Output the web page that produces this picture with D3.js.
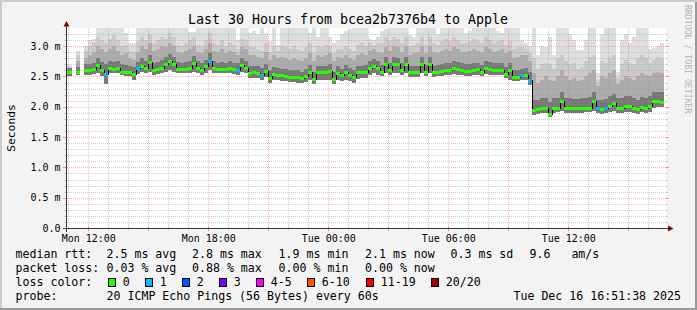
<!DOCTYPE html>
<html><head><meta charset="utf-8">
<script src="https://cdn.jsdelivr.net/npm/d3@7"></script>
<style>
html,body{margin:0;padding:0;background:#f3f3f3;}
svg{display:block;}
text{font-family:"DejaVu Sans Mono",monospace;white-space:pre;}
</style></head><body>
<svg id="c" width="697" height="310"></svg>
<script>
// ---------------- data ----------------
const chartTitle = "Last 30 Hours from bcea2b7376b4 to Apple";
const yAxisTitle = "Seconds";
const watermark = "RRDTOOL / TOBI OETIKER";
const startTime = new Date(2025, 11, 15, 10, 51, 38);
const endTime   = new Date(2025, 11, 16, 16, 51, 38);
const firstStep = new Date(2025, 11, 15, 10, 48, 0);
const stepMinutes = 12;

// median rtt per 12-minute step (ms)
const median = [
2.57,2.57,null,2.57,null,2.60,2.60,2.62,2.68,2.60,
2.54,2.64,2.62,2.64,2.57,2.57,2.57,2.54,2.63,2.67,
2.63,2.73,2.60,2.61,2.63,2.69,2.74,2.69,2.62,2.62,
2.62,2.64,2.72,2.63,2.60,2.66,2.74,2.64,2.62,2.62,
2.62,2.64,2.61,2.60,2.68,2.63,2.55,2.56,2.55,2.51,
2.59,2.46,2.53,2.52,2.51,2.50,2.48,2.49,2.48,2.46,
2.50,2.57,2.45,2.56,2.56,2.56,2.58,2.45,2.55,2.51,
2.57,2.52,2.48,2.57,2.57,2.57,2.64,2.67,2.63,2.57,
2.69,2.60,2.69,2.69,2.60,2.69,2.56,2.56,2.56,2.69,
2.57,2.69,2.56,2.57,2.59,2.60,2.60,2.64,2.62,2.60,
2.59,2.59,2.60,2.61,2.57,2.64,2.62,2.60,2.60,2.60,
2.53,2.60,2.48,2.48,2.51,2.52,2.43,1.94,1.95,1.98,
1.97,1.87,1.98,1.98,2.08,1.97,1.98,1.97,1.97,1.97,
1.98,1.98,2.08,1.97,1.95,1.97,2.00,2.05,1.98,1.98,
2.00,2.00,1.98,1.95,1.99,1.97,2.01,2.08,2.08,2.07];

// lost pings per step (out of 20)
const lossCount = [
0,0,0,0,0,0,0,0,0,0, 1,0,0,0,0,0,0,0,1,0,
0,0,0,0,0,0,0,0,0,0, 0,0,0,0,0,0,1,0,0,0,
0,0,0,1,0,0,0,0,0,1, 0,0,0,0,0,0,0,0,0,0,
0,0,0,0,0,0,0,0,0,0, 0,0,0,0,0,0,0,0,0,0,
0,0,0,0,0,0,0,0,0,0, 0,0,0,0,0,0,0,0,0,0,
0,0,0,0,0,0,0,0,0,0, 0,0,0,0,1,0,1,0,0,0,
0,0,0,0,0,0,0,0,0,0, 0,0,0,1,0,1,0,0,0,0,
0,0,0,0,0,0,0,0,0,0];

// smoke bands (ms): highest ping, outer, upper, inner spread, lowest ping
const smokeMax = [
2.69,2.69,null,2.92,null,3.00,3.10,3.12,3.40,3.40,
3.30,3.30,3.32,3.30,3.40,3.22,3.05,3.05,3.40,3.40,
3.40,3.40,3.40,3.40,3.40,3.40,3.40,3.40,3.40,3.40,
3.40,3.23,3.23,3.40,3.40,3.40,3.40,3.40,3.40,3.40,
3.40,3.40,3.40,3.10,3.40,3.40,3.22,3.25,3.20,3.30,
3.22,3.08,3.40,3.02,3.40,3.40,3.40,3.40,3.40,3.40,
3.40,3.22,3.40,3.15,3.40,3.40,3.15,3.05,3.10,3.20,
3.25,3.28,3.40,3.40,3.40,3.40,3.12,3.10,3.15,3.25,
3.28,3.40,3.40,3.40,3.40,3.40,3.18,3.15,3.40,3.40,
3.40,3.40,3.40,3.20,3.40,3.40,3.40,3.40,3.40,3.40,
3.22,3.25,3.40,3.40,3.40,3.40,3.40,3.40,3.25,3.22,
3.40,3.40,3.40,3.40,3.10,3.05,3.00,3.30,2.85,3.00,
2.99,3.15,2.85,3.40,3.40,3.30,3.20,3.10,2.93,2.93,
3.10,3.40,3.40,2.56,3.20,3.40,3.30,3.40,2.57,3.10,
3.20,3.05,3.15,3.40,3.40,3.40,2.95,2.97,3.00,3.05];
const smokeOuter = [
2.66,2.66,null,2.85,null,2.92,3.00,3.05,3.15,3.10,
3.05,3.12,3.18,3.10,3.00,3.02,2.92,2.90,3.08,3.15,
3.10,3.20,3.05,3.10,3.15,3.12,3.22,3.15,3.02,3.00,
3.05,3.10,3.15,3.02,3.00,3.10,3.22,3.05,3.02,3.10,
3.00,3.05,3.02,2.95,3.12,3.10,3.00,2.98,2.95,2.92,
3.05,2.90,3.00,2.92,3.00,2.98,2.95,3.00,2.95,2.92,
2.98,3.05,2.90,3.00,2.98,3.02,3.00,2.88,2.95,2.95,
3.00,2.95,2.92,3.02,3.05,3.00,3.05,3.02,3.05,3.05,
3.15,3.08,3.15,3.12,3.05,3.15,3.00,3.02,3.05,3.15,
3.02,3.15,3.05,3.02,3.08,3.12,3.08,3.15,3.10,3.05,
3.05,3.08,3.12,3.08,3.05,3.15,3.10,3.05,3.08,3.10,
3.02,3.08,2.95,2.98,2.98,2.95,2.88,2.80,2.62,2.70,
2.72,2.70,2.62,2.80,2.85,2.75,2.70,2.72,2.62,2.65,
2.75,2.82,2.85,2.45,2.75,2.72,2.80,2.85,2.48,2.70,
2.78,2.72,2.70,2.80,2.85,2.80,2.72,2.78,2.82,2.80];
const smokeUpper = [
2.62,2.62,null,2.75,null,2.80,2.85,2.90,3.00,2.95,
2.90,2.95,3.00,2.92,2.85,2.88,2.80,2.78,2.90,3.00,
2.95,3.05,2.92,2.95,3.00,2.98,3.05,3.00,2.90,2.88,
2.92,2.95,3.00,2.90,2.88,2.95,3.05,2.92,2.90,2.95,
2.88,2.92,2.90,2.85,2.98,2.95,2.85,2.85,2.82,2.80,
2.90,2.78,2.85,2.80,2.82,2.80,2.78,2.80,2.78,2.75,
2.80,2.88,2.75,2.85,2.82,2.85,2.88,2.75,2.82,2.80,
2.85,2.80,2.78,2.85,2.88,2.85,2.92,2.95,2.90,2.88,
2.98,2.92,3.00,2.98,2.90,3.00,2.85,2.88,2.90,3.00,
2.88,3.00,2.90,2.88,2.92,2.95,2.92,2.98,2.95,2.90,
2.90,2.92,2.95,2.92,2.90,2.98,2.95,2.90,2.92,2.95,
2.88,2.92,2.80,2.82,2.85,2.85,2.75,2.55,2.40,2.45,
2.50,2.45,2.42,2.50,2.60,2.50,2.45,2.48,2.42,2.45,
2.50,2.55,2.60,2.35,2.50,2.48,2.55,2.60,2.38,2.45,
2.50,2.48,2.45,2.50,2.55,2.52,2.50,2.55,2.58,2.55];
const smokeInner = [
2.64,2.64,null,2.66,null,2.70,2.71,2.73,2.80,2.74,
2.70,2.76,2.74,2.76,2.70,2.69,2.68,2.66,2.74,2.80,
2.76,2.86,2.73,2.74,2.77,2.82,2.87,2.82,2.74,2.73,
2.74,2.76,2.84,2.75,2.72,2.78,2.88,2.76,2.73,2.74,
2.73,2.76,2.73,2.72,2.81,2.76,2.67,2.68,2.67,2.64,
2.71,2.60,2.65,2.64,2.63,2.62,2.60,2.61,2.60,2.58,
2.62,2.69,2.58,2.68,2.67,2.68,2.70,2.58,2.67,2.63,
2.69,2.64,2.60,2.68,2.68,2.69,2.76,2.79,2.75,2.69,
2.82,2.73,2.82,2.81,2.72,2.82,2.68,2.68,2.68,2.82,
2.69,2.82,2.68,2.69,2.71,2.72,2.72,2.76,2.74,2.72,
2.71,2.71,2.72,2.73,2.69,2.76,2.74,2.72,2.72,2.72,
2.66,2.72,2.61,2.60,2.63,2.64,2.57,2.12,2.12,2.15,
2.14,2.08,2.15,2.15,2.24,2.14,2.15,2.13,2.13,2.14,
2.15,2.16,2.24,2.12,2.12,2.13,2.17,2.21,2.14,2.15,
2.17,2.17,2.15,2.12,2.16,2.14,2.18,2.24,2.25,2.24];
const smokeMin = [
2.50,2.50,null,2.52,null,2.53,2.53,2.54,2.55,2.50,
2.38,2.55,2.55,2.56,2.52,2.51,2.51,2.45,2.54,2.57,
2.55,2.58,2.53,2.54,2.55,2.57,2.60,2.58,2.55,2.55,
2.55,2.56,2.58,2.55,2.53,2.56,2.60,2.56,2.55,2.55,
2.55,2.56,2.54,2.53,2.57,2.55,2.47,2.48,2.47,2.44,
2.49,2.40,2.45,2.44,2.43,2.42,2.41,2.41,2.40,2.39,
2.41,2.44,2.38,2.44,2.45,2.45,2.45,2.38,2.44,2.42,
2.45,2.43,2.40,2.46,2.47,2.48,2.52,2.55,2.53,2.50,
2.55,2.52,2.55,2.55,2.52,2.55,2.49,2.49,2.49,2.55,
2.50,2.55,2.49,2.50,2.51,2.52,2.52,2.54,2.53,2.52,
2.51,2.51,2.52,2.52,2.50,2.54,2.53,2.52,2.52,2.52,
2.47,2.45,2.42,2.42,2.44,2.45,2.36,1.87,1.88,1.90,
1.89,1.83,1.90,1.91,1.93,1.90,1.90,1.90,1.90,1.90,
1.91,1.91,1.93,1.89,1.88,1.89,1.91,1.93,1.90,1.90,
1.91,1.92,1.90,1.88,1.91,1.90,1.92,1.98,1.99,1.99];

const yTickValues = [0, 0.5, 1.0, 1.5, 2.0, 2.5, 3.0];
const yTickLabels = ["0.0", "0.5 m", "1.0 m", "1.5 m", "2.0 m", "2.5 m", "3.0 m"];

const lossBuckets = ["0", "1", "2", "3", "4-5", "6-10", "11-19", "20/20"];
const lossColors  = ["#26ff00", "#00b8ff", "#0059ff", "#7e00ff", "#ff00ff", "#ff5500", "#ff0000", "#a10000"];
const lossUpper   = [0, 1, 2, 3, 5, 10, 19, 20];

const rttStats  = ["2.5 ms avg", "2.8 ms max", "1.9 ms min", "2.1 ms now", "0.3 ms sd", "9.6   am/s"];
const lossStats = ["0.03 % avg", "0.88 % max", "0.00 % min", "0.00 % now"];
const probeText = "20 ICMP Echo Pings (56 Bytes) every 60s";
const dateText  = "Tue Dec 16 16:51:38 2025";

// ---------------- drawing ----------------
(function () {
const svg = d3.select("#c");
const W = 697, H = 310;
const pL = 66, pR = 666, pT = 28, pB = 228;

svg.append("rect").attr("width", W).attr("height", H).attr("fill", "#f3f3f3");
svg.append("path").attr("d", "M0,0H697V2H2V310H0Z").attr("fill", "#cbcbcb");
svg.append("path").attr("d", "M697,0V310H0V308H695V2H697Z").attr("fill", "#999999");

const x = d3.scaleTime().domain([startTime, endTime]).range([65.5, 665.5]);
const y = d3.scaleLinear().domain([0, 3.3]).range([pB, pT]);

svg.append("rect").attr("x", pL).attr("y", pT).attr("width", pR - pL).attr("height", pB - pT).attr("fill", "#ffffff");

svg.append("clipPath").attr("id", "plot").append("rect")
  .attr("x", pL + 1).attr("y", pT).attr("width", pR - pL - 1).attr("height", pB - pT);

const stepTime = k => new Date(firstStep.getTime() + k * stepMinutes * 60000);
const steps = d3.range(median.length).filter(k => median[k] != null);

const g = svg.append("g").attr("clip-path", "url(#plot)").attr("shape-rendering", "crispEdges");

const layers = [
  {top: smokeMax,   color: "#dedede"},
  {top: smokeOuter, color: "#cacaca"},
  {top: smokeUpper, color: "#acacac"},
  {top: smokeInner, color: "#787878"}
];
layers.forEach(L => {
  g.append("g").selectAll("rect").data(steps).join("rect")
    .attr("x", k => x(stepTime(k)))
    .attr("width", k => x(stepTime(k + 1)) - x(stepTime(k)))
    .attr("y", k => y(L.top[k]))
    .attr("height", k => y(smokeMin[k]) - y(L.top[k]))
    .attr("fill", L.color);
});

// grid
const minorCol = "rgba(150,150,150,0.45)", majorCol = "rgba(255,90,90,0.45)";
const grid = svg.append("g");
const px = v => Math.floor(v) + 0.5;
const hourTicks = x.ticks(d3.timeHour.every(1));
const majorX = hourTicks.filter(t => t.getHours() % 3 === 0);
const minorX = hourTicks.filter(t => t.getHours() % 3 !== 0);
const minorY = d3.range(1, 33).map(i => i / 10).filter(v => Math.abs(v * 2 - Math.round(v * 2)) > 1e-6);
const majorY = yTickValues.filter(v => v > 0);

grid.append("g").selectAll("line").data(minorX).join("line")
  .attr("x1", t => px(x(t))).attr("x2", t => px(x(t))).attr("y1", pT).attr("y2", pB)
  .attr("stroke", minorCol).attr("stroke-dasharray", "1,1");
grid.append("g").selectAll("line").data(minorY).join("line")
  .attr("x1", pL + 1).attr("x2", pR).attr("y1", v => Math.round(y(v)) + 0.5).attr("y2", v => Math.round(y(v)) + 0.5)
  .attr("stroke", minorCol).attr("stroke-dasharray", "1,1");
grid.append("g").selectAll("line").data(majorX).join("line")
  .attr("x1", t => px(x(t))).attr("x2", t => px(x(t))).attr("y1", pT).attr("y2", pB)
  .attr("stroke", majorCol).attr("stroke-dasharray", "1,1");
grid.append("g").selectAll("line").data(majorY).join("line")
  .attr("x1", pL + 1).attr("x2", pR).attr("y1", v => Math.round(y(v)) + 0.5).attr("y2", v => Math.round(y(v)) + 0.5)
  .attr("stroke", majorCol).attr("stroke-dasharray", "1,1");

// median line and loss-coloured bars
const g2 = svg.append("g").attr("clip-path", "url(#plot)").attr("shape-rendering", "crispEdges");
const line = d3.line()
  .defined(k => median[k] != null)
  .x(k => x(stepTime(k)))
  .y(k => y(median[k]))
  .curve(d3.curveStepAfter);
g2.append("path").datum(d3.range(median.length))
  .attr("d", line).attr("fill", "none").attr("stroke", "#000").attr("stroke-width", 1);

const lossColor = n => lossColors[lossUpper.findIndex(u => n <= u)];
g2.append("g").selectAll("rect").data(steps).join("rect")
  .attr("x", k => x(stepTime(k)))
  .attr("width", k => x(stepTime(k + 1)) - x(stepTime(k)))
  .attr("y", k => y(median[k]) - 1.5)
  .attr("height", 3)
  .attr("fill", k => lossColor(lossCount[k]));

// ticks
const ticks = svg.append("g").attr("shape-rendering", "crispEdges");
ticks.append("g").selectAll("line").data(minorX).join("line")
  .attr("x1", t => px(x(t))).attr("x2", t => px(x(t))).attr("y1", 226).attr("y2", 230).attr("stroke", "#cccccc");
ticks.append("g").selectAll("line").data(majorX).join("line")
  .attr("x1", t => px(x(t))).attr("x2", t => px(x(t))).attr("y1", 226).attr("y2", 231).attr("stroke", "#ff9090");
[[minorY, "#cccccc", 2], [majorY, "#ff9090", 3]].forEach(([vals, col, len]) => {
  ticks.append("g").selectAll("line").data(vals).join("line")
    .attr("x1", pL - len).attr("x2", pL).attr("y1", v => Math.round(y(v)) + 0.5).attr("y2", v => Math.round(y(v)) + 0.5).attr("stroke", col);
  ticks.append("g").selectAll("line").data(vals).join("line")
    .attr("x1", pR).attr("x2", pR + len).attr("y1", v => Math.round(y(v)) + 0.5).attr("y2", v => Math.round(y(v)) + 0.5).attr("stroke", col);
});

// axes
const axisCol = "#333333", arrowCol = "#7f0000";
svg.append("line").attr("x1", 63).attr("x2", 669).attr("y1", pB + 0.5).attr("y2", pB + 0.5)
  .attr("stroke", axisCol).attr("shape-rendering", "crispEdges");
svg.append("line").attr("x1", pL + 0.5).attr("x2", pL + 0.5).attr("y1", 232).attr("y2", 24)
  .attr("stroke", axisCol).attr("shape-rendering", "crispEdges");
svg.append("path").attr("d", "M668,225.5L673.5,228.5L668,231.5Z").attr("fill", arrowCol);
svg.append("path").attr("d", "M63.5,26.5L66.5,21L69.5,26.5Z").attr("fill", arrowCol);

// axis labels
svg.append("g").selectAll("text").data(yTickValues).join("text")
  .attr("x", 60.5).attr("y", v => y(v) + 3.6).attr("text-anchor", "end")
  .attr("font-size", "10px").attr("fill", "#000")
  .text((v, i) => yTickLabels[i]);
const fmt = d3.timeFormat("%a %H:%M");
svg.append("g").selectAll("text").data(x.ticks(d3.timeHour.every(6))).join("text")
  .attr("x", t => x(t) + 0.5).attr("y", 241.5).attr("text-anchor", "middle")
  .attr("font-size", "10px").attr("fill", "#000")
  .text(t => fmt(t));

// titles
svg.append("text").attr("x", 348).attr("y", 23.5).attr("text-anchor", "middle")
  .attr("font-size", "13.3px").attr("fill", "#000").text(chartTitle);
svg.append("text").attr("transform", "translate(15,128) rotate(-90)").attr("text-anchor", "middle")
  .attr("font-size", "11.3px").attr("fill", "#000").text(yAxisTitle);
svg.append("text").attr("transform", "translate(685,5) rotate(90)")
  .attr("font-size", "8.2px").attr("fill", "#b4b4b4").text(watermark);

// legend
const lg = svg.append("g").attr("font-size", "11.6px").attr("fill", "#000");
const rowY = [258.3, 272.3, 286.3, 300];
const statX = [106.5, 192, 278.6, 365, 450.5, 529.5];
lg.append("text").attr("x", 15.5).attr("y", rowY[0]).text("median rtt:");
lg.append("g").selectAll("text").data(rttStats).join("text").attr("x", (d, i) => statX[i]).attr("y", rowY[0]).text(d => d);
lg.append("text").attr("x", 15.5).attr("y", rowY[1]).text("packet loss:");
lg.append("g").selectAll("text").data(lossStats).join("text").attr("x", (d, i) => statX[i]).attr("y", rowY[1]).text(d => d);
lg.append("text").attr("x", 15.5).attr("y", rowY[2]).text("loss color:");
const boxX = [108.5, 145.5, 182.5, 219.5, 256.5, 307.5, 366.5, 431.5];
lg.append("g").selectAll("rect").data(lossBuckets).join("rect")
  .attr("x", (d, i) => boxX[i]).attr("y", 278.5).attr("width", 7).attr("height", 8)
  .attr("fill", (d, i) => lossColors[i]).attr("stroke", "#000").attr("stroke-width", 1)
  .attr("shape-rendering", "crispEdges");
lg.append("g").selectAll("text").data(lossBuckets).join("text")
  .attr("x", (d, i) => boxX[i] + 14.3).attr("y", rowY[2]).text(d => d);
lg.append("text").attr("x", 15.5).attr("y", rowY[3]).text("probe:");
lg.append("text").attr("x", 106.5).attr("y", rowY[3]).text(probeText);
lg.append("text").attr("x", 681).attr("y", rowY[3]).attr("text-anchor", "end").text(dateText);
})();
</script>
</body></html>
